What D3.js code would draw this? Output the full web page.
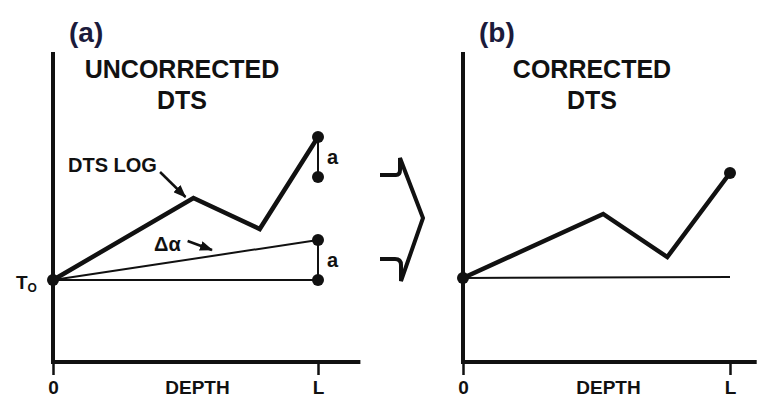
<!DOCTYPE html>
<html>
<head>
<meta charset="utf-8">
<script src="https://cdn.jsdelivr.net/npm/d3@7"></script>
<style>
body { margin: 0; background: #fff; }
text { font-family: "Liberation Sans", Arial, sans-serif; font-weight: bold; fill: #111; }
</style>
</head>
<body>
<div id="chart"></div>
<script>
// depth as fraction of L, temperature relative to To (arbitrary units)
var depthA = [0, 0.53, 0.78, 1];
var logA = [0, 8.2, 5.1, 14.3];
var driftA = [0, 4.0];
var baseA = [0, 0];
var endDepth = [0, 1];

var depthB = [0, 0.525, 0.765, 1];
var corrB = [0.2, 6.6, 2.3, 10.7];
var baseB = [0.2, 0.3];

var tickLabels = ["0", "L"];

var width = 757, height = 399;

var svg = d3.select("#chart")
    .append("svg")
    .attr("width", width)
    .attr("height", height);

svg.append("rect").attr("width", width).attr("height", height).attr("fill", "#fff");

svg.append("defs").append("marker")
    .attr("id", "arrow")
    .attr("markerUnits", "userSpaceOnUse")
    .attr("markerWidth", 13)
    .attr("markerHeight", 10)
    .attr("refX", 12)
    .attr("refY", 5)
    .attr("orient", "auto")
    .append("path")
    .attr("d", "M0,0 L13,5 L0,10 z")
    .attr("fill", "#111");

var y = d3.scaleLinear().domain([-8.2, 22.8]).range([362, 52]);
var xA = d3.scaleLinear().domain([0, 1]).range([53, 318]);
var xB = d3.scaleLinear().domain([0, 1]).range([463, 730]);

var line = function(x) {
    return d3.line().x(function(d) { return x(d[0]); }).y(function(d) { return y(d[1]); });
};

function drawFrame(x, xEnd, letter, title, titleX) {
    var g = svg.append("g");

    // axes
    var axis = g.append("g")
        .attr("transform", "translate(0," + y(-8.2) + ")")
        .call(d3.axisBottom(x).tickValues(endDepth)
            .tickFormat(function(d, i) { return tickLabels[i]; })
            .tickSize(13).tickSizeOuter(0).tickPadding(6));
    axis.select(".domain").remove();
    axis.selectAll(".tick line").attr("stroke", "#111").attr("stroke-width", 2.5);
    axis.selectAll(".tick text").attr("font-size", 19).attr("fill", "#111")
        .attr("font-family", "Liberation Sans, Arial, sans-serif");

    g.append("line")
        .attr("x1", x(0)).attr("x2", x(0))
        .attr("y1", y(22.8)).attr("y2", y(-8.2))
        .attr("stroke", "#111").attr("stroke-width", 4);
    g.append("line")
        .attr("x1", x(0) - 2).attr("x2", x(xEnd))
        .attr("y1", y(-8.2)).attr("y2", y(-8.2))
        .attr("stroke", "#111").attr("stroke-width", 4);

    g.append("text").attr("x", (x(0) + x(1)) / 2 + 12).attr("y", 394)
        .attr("text-anchor", "middle").attr("font-size", 19).text("DEPTH");

    g.append("text").attr("x", x(0) + 16).attr("y", 42)
        .attr("font-size", 28).style("fill", "#1b1b3c").text(letter);

    g.append("text").attr("x", titleX).attr("y", 78)
        .attr("text-anchor", "middle").attr("font-size", 25).text(title);
    g.append("text").attr("x", titleX).attr("y", 109)
        .attr("text-anchor", "middle").attr("font-size", 25).text("DTS");
    return g;
}

// (a) uncorrected
var ga = drawFrame(xA, 1.16, "(a)", "UNCORRECTED", 182);

ga.append("path")
    .datum(d3.zip(endDepth, baseA))
    .attr("d", line(xA)).attr("fill", "none")
    .attr("stroke", "#111").attr("stroke-width", 2);
ga.append("path")
    .datum(d3.zip(endDepth, driftA))
    .attr("d", line(xA)).attr("fill", "none")
    .attr("stroke", "#111").attr("stroke-width", 2);
ga.append("path")
    .datum(d3.zip(depthA, logA))
    .attr("d", line(xA)).attr("fill", "none")
    .attr("stroke", "#111").attr("stroke-width", 4.5)
    .attr("stroke-linejoin", "miter");

// "a" offsets at depth L
var lastLog = logA[logA.length - 1];
var offsets = [[lastLog, lastLog - driftA[1]], [driftA[1], baseA[1]]];
offsets.forEach(function(o) {
    ga.append("line")
        .attr("x1", xA(1)).attr("x2", xA(1))
        .attr("y1", y(o[0])).attr("y2", y(o[1]))
        .attr("stroke", "#111").attr("stroke-width", 2);
    ga.append("text").attr("x", xA(1) + 9).attr("y", (y(o[0]) + y(o[1])) / 2 + 7)
        .attr("font-size", 20).text("a");
});

var dotsA = [[0, 0], [1, lastLog], [1, lastLog - driftA[1]], [1, driftA[1]], [1, baseA[1]]];
ga.selectAll("circle").data(dotsA).enter().append("circle")
    .attr("cx", function(d) { return xA(d[0]); })
    .attr("cy", function(d) { return y(d[1]); })
    .attr("r", 6).attr("fill", "#111");

// labels and arrows
ga.append("text").attr("x", 68).attr("y", 172).attr("font-size", 20).text("DTS LOG");
ga.append("line")
    .attr("x1", xA(0.404)).attr("y1", y(10.8))
    .attr("x2", xA(0.5)).attr("y2", y(8.3))
    .attr("stroke", "#111").attr("stroke-width", 2.5)
    .attr("marker-end", "url(#arrow)");
ga.append("text").attr("x", 154).attr("y", 251).attr("font-size", 20).text("\u0394\u03b1");
ga.append("line")
    .attr("x1", xA(0.508)).attr("y1", y(3.9))
    .attr("x2", xA(0.6)).attr("y2", y(3.0))
    .attr("stroke", "#111").attr("stroke-width", 2.5)
    .attr("marker-end", "url(#arrow)");

var t0 = ga.append("text").attr("x", 16).attr("y", 289).attr("font-size", 19);
t0.append("tspan").text("T");
t0.append("tspan").attr("font-size", 12).attr("dy", 3).text("O");

// (b) corrected
var gb = drawFrame(xB, 1.1, "(b)", "CORRECTED", 592);

gb.append("path")
    .datum(d3.zip(endDepth, baseB))
    .attr("d", line(xB)).attr("fill", "none")
    .attr("stroke", "#111").attr("stroke-width", 2);
gb.append("path")
    .datum(d3.zip(depthB, corrB))
    .attr("d", line(xB)).attr("fill", "none")
    .attr("stroke", "#111").attr("stroke-width", 4.5);

var dotsB = [[0, corrB[0]], [1, corrB[corrB.length - 1]]];
gb.selectAll("circle").data(dotsB).enter().append("circle")
    .attr("cx", function(d) { return xB(d[0]); })
    .attr("cy", function(d) { return y(d[1]); })
    .attr("r", 6).attr("fill", "#111");

// bracket between the panels
svg.append("path")
    .attr("d", "M380,175 L396,175 Q400,175 400,170 L400,158 L423,218 L401,281 L401,265 Q401,259 395,259 L380,259")
    .attr("fill", "none")
    .attr("stroke", "#111")
    .attr("stroke-width", 4)
    .attr("stroke-linejoin", "miter");
</script>
</body>
</html>
